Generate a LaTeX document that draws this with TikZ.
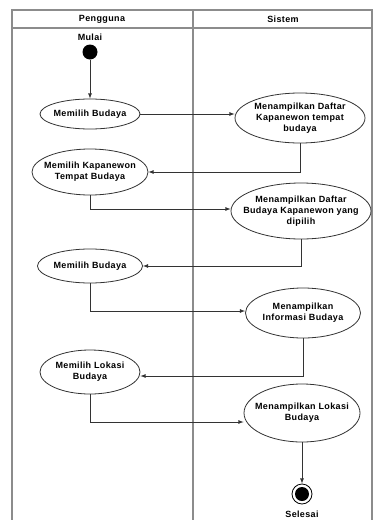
\documentclass[tikz,border=0pt]{standalone}
\usepackage{fontspec}
\setmainfont{Liberation Sans}
\usetikzlibrary{arrows,shapes.geometric,calc}

\newfontfamily\lblfont[LetterSpace=4]{Liberation Sans}

\begin{document}
\begin{tikzpicture}[x=1pt,y=-1pt,
    txt/.style={font=\lblfont\fontsize{9}{11}\selectfont\bfseries},
    act/.style={ellipse,draw=black!80,thick,fill=white,inner sep=0pt,
    label={[txt,align=center]center:#1}},
    lane/.style={draw=black!45,line width=1.3pt},
    flow/.style={draw=black!80,-latex,thick}]
    \useasboundingbox (0,0) rectangle (379,520);

    \draw[lane] (12,522) -- (12,10) -- (372,10) -- (372,522);
    \draw[lane] (12,28) -- (372,28);
    \draw[lane] (193,10) -- (193,522);
    \node[txt] (HP) at (102,19) {Pengguna};
    \node[txt] (HS) at (283,19) {Sistem};

    \node[txt] (lmulai) at (90,37) {Mulai};
    \node[circle,fill=black,minimum size=15pt,inner sep=0pt] (mulai) at (90,52) {};

    \node[act={Memilih Budaya},minimum width=100pt,minimum height=30pt] (U1) at (90,114) {};
    \node[act={Menampilkan Daftar\\Kapanewon tempat\\budaya},minimum width=130pt,minimum height=50pt] (S1) at (300,118) {};
    \node[act={Memilih Kapanewon\\Tempat Budaya},minimum width=116pt,minimum height=46pt] (U2) at (90,172) {};
    \node[act={Menampilkan Daftar\\Budaya Kapanewon yang\\dipilih},minimum width=140pt,minimum height=56pt] (S2) at (301,211) {};
    \node[act={Memilih Budaya},minimum width=105pt,minimum height=34pt] (U3) at (90,266) {};
    \node[act={Menampilkan\\Informasi Budaya},minimum width=115pt,minimum height=50pt] (S3) at (303,313) {};
    \node[act={Memilih Lokasi\\Budaya},minimum width=100pt,minimum height=44pt] (U4) at (90,372) {};
    \node[act={Menampilkan Lokasi\\Budaya},minimum width=116pt,minimum height=58pt] (S4) at (302,413) {};

    \node[circle,draw=black,thick,minimum size=20pt,inner sep=0pt] (selesai) at (302,494) {};
    \node[circle,fill=black,minimum size=14pt,inner sep=0pt] at (selesai) {};
    \node[txt] (lselesai) at (302,514) {Selesai};

    \draw[flow] (mulai) -- (U1);
    \draw[flow] (U1.east) -- (U1.east -| S1.west);
    \draw[flow] (S1.south) |- (U2.east);
    \draw[flow] (U2.south) |- ($(S2.west)+(0,-2)$);
    \draw[flow] (S2.south) |- (U3.east);
    \draw[flow] (U3.south) |- ($(S3.west)+(0,-2)$);
    \draw[flow] (S3.south) |- ($(U4.east)+(0,4)$);
    \draw[flow] (U4.south) |- ($(S4.west)+(0,9)$);
    \draw[flow] (S4) -- (selesai);
\end{tikzpicture}
\end{document}
